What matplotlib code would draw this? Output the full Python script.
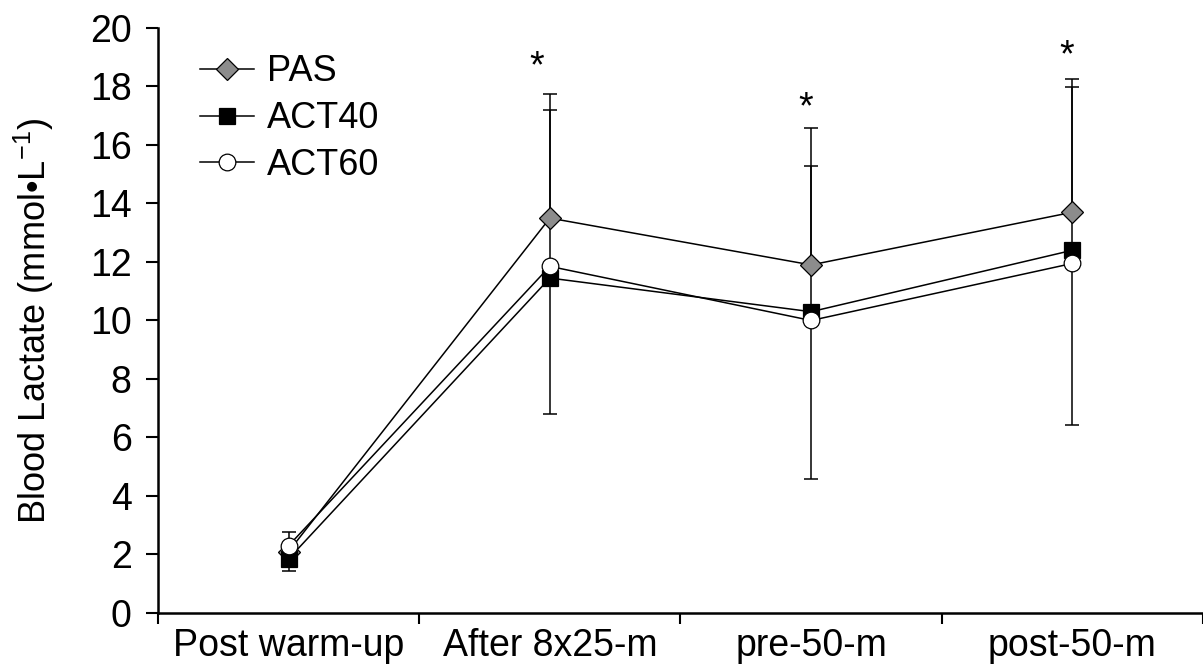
import matplotlib
matplotlib.use("Agg")
import matplotlib.pyplot as plt

plt.rcParams['font.family'] = ['Liberation Sans', 'DejaVu Sans']
plt.rcParams['mathtext.fontset'] = 'custom'
plt.rcParams['mathtext.rm'] = 'Liberation Sans'
plt.rcParams['mathtext.it'] = 'Liberation Sans'

categories = ["Post warm-up", "After 8x25-m", "pre-50-m", "post-50-m"]
x = [0.5, 1.5, 2.5, 3.5]

pas = [2.1, 13.5, 11.9, 13.7]
act40 = [1.85, 11.45, 10.3, 12.4]
act60 = [2.3, 11.85, 10.0, 11.95]

# error bars: only one side shown per series (like the original)
pas_up = [0.67, 4.24, 4.68, 4.56]
act40_down = [0.42, 4.65, 5.72, 5.97]
act60_up = [0.0, 5.35, 5.28, 6.03]

star_x = [1.45, 2.48, 3.48]
star_y = [19.0, 17.6, 19.4]

fig = plt.figure(figsize=(12.03, 6.66), dpi=100)
ax = fig.add_axes([0.1313, 0.0796, 0.8687, 0.8784])

zeros = [0, 0, 0, 0]
ax.errorbar(x, pas, yerr=[zeros, pas_up], fmt='none', ecolor='black',
            elinewidth=1.1, capsize=5, capthick=1.1, zorder=1)
ax.errorbar(x, act40, yerr=[act40_down, zeros], fmt='none', ecolor='black',
            elinewidth=1.1, capsize=5, capthick=1.1, zorder=1)
ax.errorbar(x, act60, yerr=[zeros, act60_up], fmt='none', ecolor='black',
            elinewidth=1.1, capsize=5, capthick=1.1, zorder=1)

ax.plot(x, pas, color='black', lw=1.1, marker='D', ms=11,
        mfc='#8c8c8c', mec='black', mew=0.9, label='PAS', zorder=3)
ax.plot(x, act40, color='black', lw=1.1, marker='s', ms=12,
        mfc='black', mec='black', mew=0.9, label='ACT40', zorder=3)
ax.plot(x, act60, color='black', lw=1.1, marker='o', ms=12,
        mfc='white', mec='black', mew=0.9, label='ACT60', zorder=4)

# asterisks: star_y is the visual centre, baseline sits ~0.7 units below
for sx, sy in zip(star_x, star_y):
    ax.text(sx, sy - 0.7, '*', ha='center', va='baseline', fontsize=27)

ax.set_xlim(0, 4)
ax.set_ylim(0, 20)
ax.set_yticks(range(0, 21, 2))
ax.set_xticks([0, 1, 2, 3, 4])
ax.set_xticklabels([])
ax.set_xticks(x, minor=True)
ax.set_xticklabels(categories, minor=True)
ax.tick_params(axis='x', which='minor', length=0, pad=11, labelsize=27)
ax.tick_params(axis='x', which='major', length=8, width=1.5, direction='out')
ax.tick_params(axis='y', length=9, width=1.5, direction='out', labelsize=27, pad=10)

for side in ['top', 'right']:
    ax.spines[side].set_visible(False)
for side in ['left', 'bottom']:
    ax.spines[side].set_linewidth(1.8)

ax.set_ylabel('Blood Lactate (mmol\u2022L$^{-1}$)', fontsize=26, labelpad=24)

ax.legend(loc='upper left', bbox_to_anchor=(0.04, 0.955), frameon=False,
          fontsize=26, handlelength=1.5, handletextpad=0.35,
          labelspacing=0.33, borderpad=0, borderaxespad=0)

fig.savefig('out.png', dpi=100)
